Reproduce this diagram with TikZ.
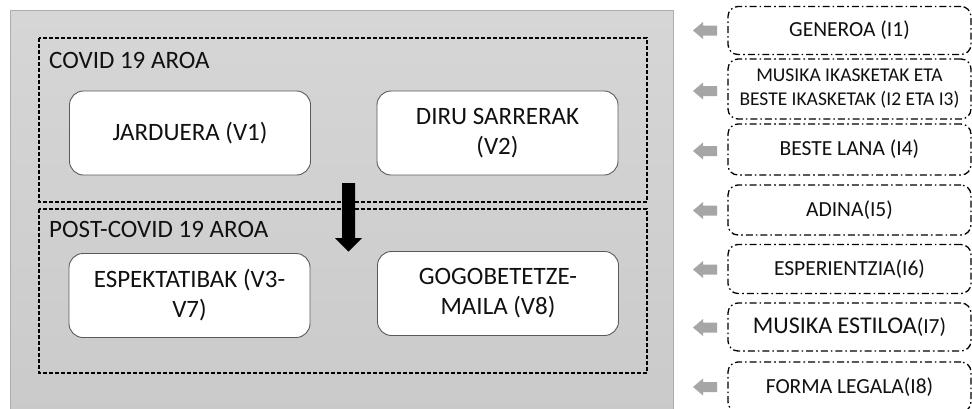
\documentclass[tikz,border=0pt]{standalone}
\usepackage{fontspec}
\setmainfont{Carlito}
\definecolor{bgtop}{HTML}{D6D6D6}
\definecolor{bgbot}{HTML}{CACACA}
\definecolor{bgline}{HTML}{ADADAD}
\definecolor{boxline}{HTML}{5A5A5A}
\definecolor{txt}{HTML}{111111}
\definecolor{arrowgray}{HTML}{A6A6A6}
\begin{document}
\begin{tikzpicture}[x=1pt,y=-1pt,
  vbox/.style={draw=boxline, fill=white, rounded corners=14pt, line width=0.9pt,
    minimum width=241pt, minimum height=84pt, align=center, text=txt,
    font=\fontsize{25}{30}\selectfont},
  region/.style={draw=black, dash pattern=on 4pt off 2pt, line width=1.3pt},
  regionlabel/.style={anchor=base west, inner sep=0pt, text=txt, font=\fontsize{25}{30}\selectfont},
  ibox/.style={draw=black, line width=1.3pt, dash pattern=on 7pt off 3pt on 1.6pt off 3pt,
    rounded corners=10pt, minimum width=243pt, align=center, text=txt,
    font=\fontsize{21.5}{26}\selectfont},
  garrow/.style={fill=arrowgray},
  barrow/.style={fill=black}]
\clip (0,0) rectangle (972,408);
\fill[white] (0,0) rectangle (972,408);
% outer panel
\path[top color=bgtop, bottom color=bgbot, draw=bgline, line width=0.8pt] (10,10) rectangle (673,420);
% regions
\draw[region] (39,38) rectangle (647,202);
\draw[region] (39,209) rectangle (647,373);
\node[regionlabel] (lab1) at (49,68) {COVID 19 AROA};
\node[regionlabel] (lab2) at (49,237) {POST-COVID 19 AROA};
% variable boxes
\node[vbox] (v1) at (190,133) {JARDUERA (V1)};
\node[vbox] (v2) at (497.5,133) {DIRU SARRERAK\\(V2)};
\node[vbox] (v3) at (189.5,295.5) {ESPEKTATIBAK (V3-\\V7)};
\node[vbox] (v8) at (498,293.5) {GOGOBETETZE-\\MAILA (V8)};
% black arrow
\fill[barrow] (342,183) -- (355,183) -- (355,238) -- (362,238) -- (348.5,251.5) -- (335,238) -- (342,238) -- cycle;
% independent variable boxes
\node[ibox, minimum height=48pt] (i1) at (849.5,30.5) {GENEROA (I1)};
\node[ibox, minimum height=60pt, font=\fontsize{19.5}{24}\selectfont] (i2) at (849.5,89) {MUSIKA IKASKETAK ETA\\BESTE IKASKETAK (I2 ETA I3)};
\node[ibox, minimum height=51pt] (i4) at (849.5,149.5) {BESTE LANA (I4)};
\node[ibox, minimum height=50pt] (i5) at (849.5,210) {ADINA(I5)};
\node[ibox, minimum height=49pt] (i6) at (849.5,269) {ESPERIENTZIA(I6)};
\node[ibox, minimum height=48pt] (i7) at (849.5,327) {{\fontsize{24}{28}\selectfont MUSIKA ESTILOA}(I7)};
\node[ibox, minimum height=50pt] (i8) at (849.5,387) {FORMA LEGALA(I8)};
% gray arrows
\foreach \c in {30.5,91,151,210.5,269.5,327.5,387}{
  \fill[garrow] (717,\c-5) -- (703,\c-5) -- (703,\c-8.5) -- (693,\c) -- (703,\c+8.5) -- (703,\c+5) -- (717,\c+5) -- cycle;
}
\end{tikzpicture}
\end{document}
